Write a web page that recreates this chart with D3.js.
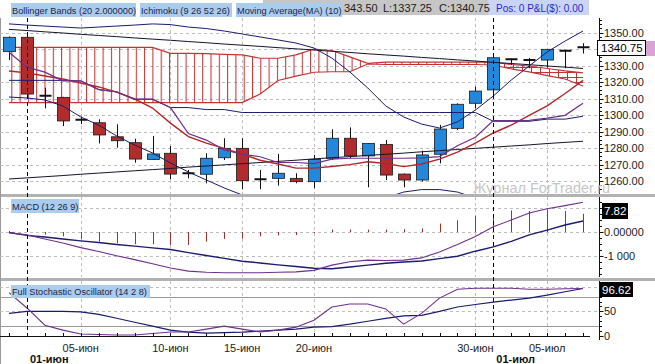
<!DOCTYPE html>
<html><head><meta charset="utf-8">
<script src="https://cdn.jsdelivr.net/npm/d3@7"></script>
<style>
body{margin:0;background:#fff;}
svg{display:block;font-family:"Liberation Sans",Arial,sans-serif;}
</style>
</head><body>
<svg id="c" width="655" height="364"></svg>
<script>
// ---------- DATA ----------
const openP  = [1338.4,1347.1,1311.5,1310.7,1297.0,1295.3,1286.8,1283.2,1273.1,1276.8,1264.6,1264.1,1274.1,1279.8,1261.2,1261.6,1261.6,1259.6,1273.8,1285.9,1275.2,1282.2,1264.2,1260.6,1276.2,1291.9,1307.1,1315.2,1333.7,1333.2,1333.3,1339.0,1341.5];
const highP  = [1347.6,1348.0,1316.5,1311.0,1299.0,1297.4,1294.4,1285.6,1287.3,1281.2,1266.7,1276.8,1285.9,1285.9,1266.7,1276.4,1264.7,1275.8,1291.3,1292.5,1283.0,1284.8,1264.5,1278.4,1294.0,1307.1,1317.2,1337.4,1334.1,1334.6,1340.0,1339.2,1343.5];
const lowP   = [1333.3,1310.3,1304.0,1293.3,1294.5,1282.8,1280.2,1271.1,1272.7,1261.0,1261.6,1258.6,1272.7,1255.0,1255.0,1257.2,1258.6,1255.6,1272.7,1273.8,1256.2,1260.6,1256.2,1259.6,1270.7,1290.9,1304.1,1312.1,1330.3,1328.3,1328.8,1328.3,1337.25];
const closeP = [1347.1,1312.7,1311.8,1296.4,1297.2,1287.9,1284.4,1273.3,1276.4,1264.2,1264.8,1273.8,1279.8,1260.2,1261.0,1264.7,1259.6,1273.1,1285.9,1275.2,1282.8,1263.6,1260.6,1275.8,1291.5,1306.5,1314.5,1334.7,1333.9,1333.4,1339.8,1338.8,1340.75];

const bbUpper = [1355.2,1354.5,1353.9,1353.3,1352.7,1353.3,1353.9,1354.5,1355.2,1354.8,1353.3,1352.4,1350.9,1349.1,1347.3,1345.5,1343.6,1340.6,1334.5,1326.1,1316.4,1305.5,1298.8,1294.5,1292.1,1295.8,1303.0,1311.5,1321.2,1329.7,1338.2,1344.8,1350.9];
const bbLower = [1310.9,1310.3,1309.1,1305.5,1298.8,1293.9,1287.3,1281.8,1277.0,1270.9,1265.5,1260.6,1255.8,1251.5,1248.5,1245.5,1243.6,1242.4,1241.2,1242.4,1245.5,1249.7,1253.3,1254.8,1254.8,1253.3,1249.7,1245.5,1241.2,1236.4,1231.5,1226.7,1221.2];
const longUpper = [1351.9,1351.2,1350.4,1349.7,1348.9,1348.2,1347.5,1346.7,1346.0,1345.3,1344.5,1343.8,1343.0,1342.3,1341.6,1340.8,1340.1,1339.4,1338.6,1337.9,1337.1,1336.4,1335.7,1334.9,1334.2,1333.4,1332.7,1331.9,1331.2,1330.5,1329.7,1329.0,1328.2];
const longLower = [1261.2,1261.9,1262.6,1263.3,1264.1,1264.8,1265.5,1266.2,1266.9,1267.6,1268.4,1269.1,1269.8,1270.5,1271.2,1271.9,1272.6,1273.4,1274.1,1274.8,1275.5,1276.2,1276.9,1277.7,1278.4,1279.1,1279.8,1280.5,1281.2,1281.9,1282.7,1283.4,1284.1];
const senkouA = [1341.0,1341.0,1341.0,1341.0,1341.0,1341.0,1341.0,1341.0,1341.0,1337.4,1337.4,1337.2,1336.8,1336.4,1334.4,1334.4,1336.4,1340.0,1339.1,1335.2,1331.3,1332.1,1332.1,1332.1,1332.1,1332.1,1332.1,1332.1,1330.6,1329.7,1328.2,1326.7,1325.5];
const senkouB = [1307.5,1307.5,1307.5,1307.5,1307.5,1307.5,1307.5,1307.5,1307.5,1307.5,1307.5,1307.5,1307.5,1307.5,1312.7,1320.9,1323.6,1325.9,1326.2,1326.2,1330.9,1330.6,1330.6,1330.6,1330.6,1330.6,1330.6,1330.3,1327.9,1326.1,1323.9,1321.8,1317.6];
const tenkan = [1338,1329,1326,1320.7,1320.7,1315.4,1314.1,1309.6,1309.6,1304.5,1288.8,1284.8,1278.8,1276.2,1274.7,1271.2,1271.2,1270.5,1273.2,1273.8,1273.8,1273.8,1273.8,1274.0,1274.8,1281.4,1286.5,1296.6,1296.6,1296.8,1298.1,1299.8,1307.1];
const kijun = [1321,1321,1321,1321,1320.6,1315.4,1314,1309.5,1309.5,1304.5,1304.5,1303.3,1303.3,1301.5,1301.5,1301.5,1301.5,1301.5,1301.5,1301.5,1301.5,1301.5,1301.5,1301.5,1301.5,1301.5,1301.5,1296.2,1296.2,1296.2,1297.5,1297.5,1299.25];
const ma10 = [1326.7,1325.5,1323.6,1321.8,1319.4,1317.0,1313.9,1309.7,1304.2,1295.1,1286.9,1283.0,1279.8,1276.2,1272.6,1270.3,1267.8,1267.8,1268.8,1269.9,1271.7,1270.6,1268.7,1270.3,1273.3,1277.5,1283.0,1289.1,1293.9,1299.8,1305.5,1313.0,1321.0];

const macdLine = [-0.3,-1.2,-2.9,-4.6,-6.5,-8.1,-9.9,-11.5,-13.2,-15.0,-16.3,-16.8,-17.0,-17.0,-17.0,-16.8,-16.6,-16.0,-13.8,-12.4,-11.7,-11.9,-11.7,-10.8,-8.3,-5.2,-1.9,2.2,5.0,7.9,9.7,11.0,12.4];
const signalLine = [-0.2,-1.4,-2.1,-2.9,-3.7,-4.4,-5.2,-5.9,-6.6,-7.3,-8.6,-9.8,-11.0,-12.2,-12.9,-13.7,-14.4,-15.1,-15.3,-14.6,-13.8,-13.0,-12.5,-12.1,-11.1,-10.1,-8.0,-6.2,-3.9,-1.2,0.8,2.9,4.6];
const macdHist = [0.4,0.2,-1.1,-1.8,-2.9,-4.0,-4.7,-5.1,-5.1,-5.4,-5.4,-4.0,-2.9,-2.8,-1.8,-1.4,-1.25,-0.4,1.0,1.0,1.0,1.0,1.2,1.5,3.5,4.9,6.7,7.5,9.0,8.75,9.4,8.75,7.6];

const stochK = [88,57,22,12,4,3,2,2,5,8,8,14,20,14,8,12,18,32,59,65,65,55,24,46,77,95,97,97,97,95,95,96,96.6];
const stochD = [46,50,50,50,49,44,36,28,20,12,8,6,7,8,10,12,14,18,19,24,30,36,41,42,50,59,64,69,73,77,83,90,96.6];

const dateTickIdx = [4,9,13,17,26,30];
const dateTickLabels = ["05-июн","10-июн","15-июн","20-июн","30-июн","05-июл"];
const monthIdx = [1,27];
const monthLabels = ["01-июн","01-июл"];
const priceGrid = [1260,1270,1280,1290,1300,1310,1320,1330,1340,1350];
const priceTicks = [1260,1270,1280,1290,1300,1310,1320,1330,1350];
const macdTicks = [0,-10];
const macdTickLabels = ["0.00000","-1 000"];
const macdGrid = [10,0,-10];
const stochTicks = [50,0];
const stochDashed = [100,50];
const stochSolid = [80,20];
const lastPrice = "1340.75", lastMacd = "7.82", lastStoch = "96.62";

// ---------- LAYOUT ----------
const svg = d3.select("#c");
const AX = 599.5;
const mainP = {t:18, b:194}, macdP = {t:197, b:277}, stP = {t:281, b:340};
const x = d3.scaleLinear().domain([0,32]).range([9,583]);
const yP = d3.scaleLinear().domain([1260,1350]).range([181,32.5]);
const yM = d3.scaleLinear().domain([-10,10]).range([256,208]);
const yS = d3.scaleLinear().domain([0,100]).range([336,286.8]);
const idx = d3.range(closeP.length);

const navy="#1b1b6e", red="#b02828", purple="#6e2f8a", cloudC="#c23434", dark="#14142c";

const defs = svg.append("defs");
[["cm",mainP],["cmacd",macdP],["cst",stP]].forEach(([id,p])=>{
  defs.append("clipPath").attr("id",id).append("rect").attr("x",0).attr("y",p.t).attr("width",AX).attr("height",p.b-p.t);
});
const hv = defs.append("pattern").attr("id","hv").attr("patternUnits","userSpaceOnUse").attr("width",8.3).attr("height",10).attr("x",3);
hv.append("line").attr("x1",0.5).attr("x2",0.5).attr("y1",0).attr("y2",10).attr("stroke",cloudC).attr("stroke-width",1.1);
const mesh = defs.append("pattern").attr("id","mesh").attr("patternUnits","userSpaceOnUse").attr("width",9).attr("height",5);
mesh.append("path").attr("d","M0.5,0V5M0,2.5H9").attr("stroke",cloudC).attr("stroke-width",1).attr("fill","none");

// separators / borders
svg.append("rect").attr("x",0).attr("y",194).attr("width",655).attr("height",3).attr("fill","#b2b2b2");
svg.append("rect").attr("x",0).attr("y",278).attr("width",655).attr("height",3).attr("fill","#b2b2b2");
svg.append("line").attr("x1",0.5).attr("x2",0.5).attr("y1",18).attr("y2",364).attr("stroke","#9a9a9a");

// grid
const g = svg.append("g");
function hgrid(vals, sc, dash, col){
  vals.forEach(v=>g.append("line").attr("x1",0).attr("x2",AX).attr("y1",Math.round(sc(v))+0.5).attr("y2",Math.round(sc(v))+0.5)
    .attr("stroke",col).attr("stroke-dasharray",dash?"3,3":null));
}
hgrid(priceGrid, yP, true, "#bdbdbd");
hgrid(macdGrid, yM, true, "#bdbdbd");
hgrid(stochDashed, yS, true, "#bdbdbd");
hgrid(stochSolid, yS, false, "#9a9a9a");
[[mainP.t,mainP.b],[macdP.t,macdP.b],[stP.t,336]].forEach(([t,b])=>{
  dateTickIdx.forEach(i=>g.append("line").attr("x1",Math.round(x(i))+0.5).attr("x2",Math.round(x(i))+0.5).attr("y1",t).attr("y2",b)
    .attr("stroke","#bdbdbd").attr("stroke-dasharray","3,3"));
});

// ---------- MAIN PANEL ----------
const gm = svg.append("g").attr("clip-path","url(#cm)");
const areaC = d3.area().x(i=>x(i)).y0(i=>yP(senkouB[i])).y1(i=>yP(senkouA[i]));
gm.append("path").attr("d",areaC(idx.filter(i=>i<=27))).attr("fill","url(#hv)");
gm.append("path").attr("d",areaC(idx.filter(i=>i>=27))).attr("fill","url(#mesh)");
const lineP = arr => d3.line().x((d,i)=>x(i)).y(d=>yP(d))(arr);
gm.append("path").attr("d",lineP(senkouA)).attr("fill","none").attr("stroke",cloudC).attr("stroke-width",1.2);
gm.append("path").attr("d",lineP(senkouB)).attr("fill","none").attr("stroke",cloudC).attr("stroke-width",1.2);

// candles
idx.forEach(i=>{
  const cx = Math.round(x(i))+0.5;
  gm.append("line").attr("x1",cx).attr("x2",cx).attr("y1",yP(highP[i])).attr("y2",yP(lowP[i])).attr("stroke","#111");
  const o=openP[i], c=closeP[i];
  if (Math.abs(o-c) < 0.8){
    const yy = yP((o+c)/2);
    gm.append("line").attr("x1",cx-6).attr("x2",cx+6).attr("y1",yy).attr("y2",yy).attr("stroke","#111").attr("stroke-width",2);
  } else {
    const top = yP(Math.max(o,c)), bot = yP(Math.min(o,c));
    gm.append("rect").attr("x",cx-6).attr("y",top).attr("width",12).attr("height",bot-top)
      .attr("fill", c>o ? "#2388dc" : "#b12d2d").attr("stroke","#1a1a1a").attr("stroke-width",0.8);
  }
});

// indicator lines
[[longUpper,dark,1],[longLower,dark,1],[bbUpper,navy,1],[bbLower,navy,1],[kijun,navy,1],[ma10,red,1.4],[tenkan,purple,1.2]]
.forEach(([arr,col,w])=>gm.append("path").attr("d",lineP(arr)).attr("fill","none").attr("stroke",col).attr("stroke-width",w));

// ---------- MACD ----------
const gd = svg.append("g").attr("clip-path","url(#cmacd)");
idx.forEach(i=>{
  const cx = Math.round(x(i))+0.5;
  gd.append("line").attr("x1",cx).attr("x2",cx).attr("y1",yM(0)).attr("y2",yM(macdHist[i])).attr("stroke","#a52f2f");
});
const lineM = arr => d3.line().x((d,i)=>x(i)).y(d=>yM(d))(arr);
gd.append("path").attr("d",lineM(signalLine)).attr("fill","none").attr("stroke",navy).attr("stroke-width",1.4);
gd.append("path").attr("d",lineM(macdLine)).attr("fill","none").attr("stroke",purple).attr("stroke-width",1.1);

// ---------- STOCH ----------
const gs = svg.append("g").attr("clip-path","url(#cst)");
const lineS = arr => d3.line().x((d,i)=>x(i)).y(d=>yS(d))(arr);
gs.append("path").attr("d",lineS(stochD)).attr("fill","none").attr("stroke",navy).attr("stroke-width",1.2);
gs.append("path").attr("d",lineS(stochK)).attr("fill","none").attr("stroke",purple).attr("stroke-width",1.1);

// month separators (black dashed)
monthIdx.forEach(i=>svg.append("line").attr("x1",Math.round(x(i))+0.5).attr("x2",Math.round(x(i))+0.5).attr("y1",mainP.t).attr("y2",340)
  .attr("stroke","#000").attr("stroke-dasharray","4,3"));

// x axis
const xa = svg.append("g");
xa.append("line").attr("x1",0).attr("x2",590).attr("y1",336.5).attr("y2",336.5).attr("stroke","#111");
idx.forEach(i=>xa.append("line").attr("x1",Math.round(x(i))+0.5).attr("x2",Math.round(x(i))+0.5).attr("y1",333).attr("y2",337).attr("stroke","#111"));
dateTickIdx.forEach((i,k)=>xa.append("text").attr("x",x(i)).attr("y",352).attr("text-anchor","middle").attr("font-size",11).attr("fill","#222").text(dateTickLabels[k]));
monthIdx.forEach((i,k)=>xa.append("text").attr("x",x(i)+3).attr("y",363).attr("font-size",11).attr("font-weight","bold").attr("fill","#111").text(monthLabels[k]));

// right axes
function rAxis(sc, ticks, labels, t, b, minorStep, minorDomain){
  const a = svg.append("g");
  a.append("line").attr("x1",AX).attr("x2",AX).attr("y1",t).attr("y2",b).attr("stroke","#111");
  d3.range(minorDomain[0], minorDomain[1]+0.001, minorStep).forEach(v=>{
    const yy=Math.round(sc(v))+0.5; if(yy<t||yy>b) return;
    a.append("line").attr("x1",AX).attr("x2",AX+2.5).attr("y1",yy).attr("y2",yy).attr("stroke","#111");
  });
  ticks.forEach((v,k)=>{
    const yy=Math.round(sc(v))+0.5;
    a.append("line").attr("x1",AX).attr("x2",AX+4).attr("y1",yy).attr("y2",yy).attr("stroke","#111");
    a.append("text").attr("x",AX+4.5).attr("y",yy).attr("dy","0.36em").attr("font-size",11).attr("fill","#222").text(labels[k]);
  });
}
rAxis(yP, priceTicks, priceTicks.map(d3.format(".2f")), mainP.t, mainP.b, 2.5, [1255,1357.5]);
rAxis(yM, macdTicks, macdTickLabels, macdP.t, macdP.b, 2.5, [-17.5,27.5]);
rAxis(yS, stochTicks, stochTicks.map(String), stP.t, 340, 10, [0,100]);

// value boxes
svg.append("rect").attr("x",646).attr("y",41).attr("width",9).attr("height",15).attr("fill","#d9a3d5");
svg.append("rect").attr("x",597.5).attr("y",40.5).attr("width",48).attr("height",15).attr("fill","#fff").attr("stroke","#000");
svg.append("text").attr("x",601).attr("y",52).attr("font-size",11.5).attr("fill","#000").text(lastPrice);
svg.append("rect").attr("x",602).attr("y",203).attr("width",26).attr("height",16).attr("fill","#000");
svg.append("text").attr("x",604).attr("y",215).attr("font-size",11.5).attr("fill","#fff").text(lastMacd);
svg.append("rect").attr("x",600).attr("y",282).attr("width",33).attr("height",15).attr("fill","#000");
svg.append("text").attr("x",602).attr("y",294).attr("font-size",11.5).attr("fill","#fff").text(lastStoch);

// watermark
svg.append("text").attr("x",473).attr("y",193).attr("font-size",14.5).attr("fill","#c6c6c6").text("Журнал ForTrader.ru");

// header
const hd = svg.append("g");
hd.append("rect").attr("x",263).attr("y",0).attr("width",225).attr("height",15).attr("fill","#c6c6c6");
hd.append("rect").attr("x",488).attr("y",0).attr("width",101).attr("height",15).attr("fill","#c9d5f3");
function tag(x0,w,y0,h,txt){
  hd.append("rect").attr("x",x0).attr("y",y0).attr("width",w).attr("height",h).attr("fill","#aacdee");
  hd.append("text").attr("x",x0+1).attr("y",y0+h-3.5).attr("font-size",9.2).attr("fill","#1e2248").text(txt);
}
tag(11,125,3,14,"Bollinger Bands (20 2.000000)");
tag(140,92,3,14,"Ichimoku (9 26 52 26)");
tag(236,106,3,14,"Moving Average(MA) (10)");
hd.append("text").attr("x",344).attr("y",12).attr("font-size",11).attr("fill","#222").text("343.50");
hd.append("text").attr("x",383).attr("y",12).attr("font-size",11).attr("fill","#222").text("L:1337.25");
hd.append("text").attr("x",439).attr("y",12).attr("font-size",11).attr("fill","#222").text("C:1340.75");
hd.append("text").attr("x",496).attr("y",12).attr("font-size",10).attr("fill","#2a2ac8").text("Pos: 0 P&L($): 0.00");
tag(11,68,199,14,"MACD (12 26 9)");
tag(11,139,285,13,"Full Stochastic Oscillator (14 2 8)");
</script>
</body></html>
